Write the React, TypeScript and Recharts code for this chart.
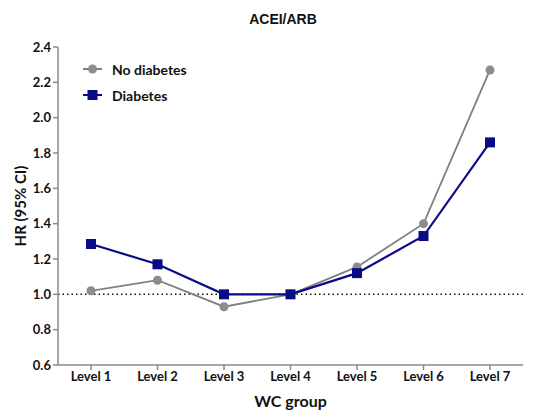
import React from 'react';
import {
  LineChart,
  Line,
  XAxis,
  YAxis,
  ReferenceLine,
  Legend,
  Label,
} from 'recharts';

const levels = ['Level 1', 'Level 2', 'Level 3', 'Level 4', 'Level 5', 'Level 6', 'Level 7'];
const noDiabetes = [1.02, 1.08, 0.93, 1.0, 1.155, 1.4, 2.27];
const diabetes = [1.285, 1.17, 1.0, 1.0, 1.12, 1.33, 1.86];
const yTicks = [0.6, 0.8, 1.0, 1.2, 1.4, 1.6, 1.8, 2.0, 2.2, 2.4];

const GRAY = '#808080';
const GRAY_DOT = '#8c8c8c';
const NAVY = '#0b0b85';
const AXIS = '#8a8a8a';
const FONT = 'Lato, "Open Sans", sans-serif';

const data = levels.map((name, i) => ({
  name,
  noDiabetes: noDiabetes[i],
  diabetes: diabetes[i],
}));

const SquareDot = (props: any) => {
  const { cx, cy, index } = props;
  if (cx == null || cy == null) return null;
  return <rect key={`sq-${index}`} x={cx - 5} y={cy - 5} width={10} height={10} fill={NAVY} />;
};

const legendItems = [
  { label: 'No diabetes', color: GRAY, shape: 'circle' },
  { label: 'Diabetes', color: NAVY, shape: 'square' },
];

function ChartLegend() {
  return (
    <div style={{ fontFamily: FONT, fontWeight: 700, fontSize: 14, color: '#111' }}>
      {legendItems.map((item) => (
        <div key={item.label} style={{ display: 'flex', alignItems: 'center', height: 26 }}>
          <svg width={22} height={14} style={{ marginRight: 7 }}>
            <line x1={0} y1={7} x2={19} y2={7} stroke={item.color} strokeWidth={2} />
            {item.shape === 'circle' ? (
              <circle cx={9.5} cy={7} r={4.5} fill={GRAY_DOT} />
            ) : (
              <rect x={4.5} y={2} width={10} height={10} fill={item.color} />
            )}
          </svg>
          <span>{item.label}</span>
        </div>
      ))}
    </div>
  );
}

// rotated y-axis title, centred on the plot area
const YTitle = (props: any) => {
  const { viewBox } = props;
  const cy = viewBox.y + viewBox.height / 2;
  return (
    <text
      x={20}
      y={cy}
      transform={`rotate(-90, 20, ${cy})`}
      textAnchor="middle"
      dominantBaseline="central"
      style={{ fill: '#111', fontSize: 15, fontWeight: 700, fontFamily: FONT }}
    >
      HR (95% CI)
    </text>
  );
};

export default function App() {
  return (
    <div style={{ position: 'absolute', left: 0, top: 0, width: 535, height: 411, background: '#fff' }}>
      <div
        style={{
          position: 'absolute',
          left: 0,
          width: 566,
          top: 11,
          textAlign: 'center',
          fontFamily: '"Liberation Sans", Arial, sans-serif',
          fontWeight: 700,
          fontSize: 14,
          color: '#111',
        }}
      >
        ACEI/ARB
      </div>
      <LineChart width={535} height={411} data={data} margin={{ top: 47, right: 12, left: 0, bottom: 0 }}>
        <XAxis
          dataKey="name"
          height={46}
          padding={{ left: 33, right: 33 }}
          axisLine={{ stroke: AXIS, strokeWidth: 1.5 }}
          tickLine={{ stroke: AXIS, strokeWidth: 1.5 }}
          tickSize={5}
          tick={{ fill: '#111', fontSize: 13, fontWeight: 700, fontFamily: FONT }}
        >
          <Label
            value="WC group"
            position="insideBottom"
            offset={4}
            style={{ fill: '#111', fontSize: 16, fontWeight: 700, fontFamily: FONT }}
          />
        </XAxis>
        <YAxis
          width={58}
          domain={[0.6, 2.4]}
          ticks={yTicks}
          interval={0}
          tickFormatter={(v: number) => v.toFixed(1)}
          axisLine={{ stroke: AXIS, strokeWidth: 1.5 }}
          tickLine={{ stroke: AXIS, strokeWidth: 1.5 }}
          tickSize={5}
          tick={{ fill: '#111', fontSize: 13, fontWeight: 700, fontFamily: FONT }}
        >
          <Label content={YTitle} />
        </YAxis>
        <ReferenceLine y={1} stroke="#111" strokeWidth={1.5} strokeDasharray="1.5 3" />
        <Legend
          layout="vertical"
          align="center"
          verticalAlign="middle"
          wrapperStyle={{ left: 83, top: 56, width: 150 }}
          content={() => <ChartLegend />}
        />
        <Line
          type="linear"
          dataKey="noDiabetes"
          name="No diabetes"
          stroke={GRAY}
          strokeWidth={1.8}
          dot={{ r: 4.5, fill: GRAY_DOT, stroke: GRAY_DOT, strokeWidth: 0 }}
          activeDot={false}
          isAnimationActive={false}
        />
        <Line
          type="linear"
          dataKey="diabetes"
          name="Diabetes"
          stroke={NAVY}
          strokeWidth={2.2}
          dot={SquareDot}
          activeDot={false}
          isAnimationActive={false}
        />
      </LineChart>
    </div>
  );
}
